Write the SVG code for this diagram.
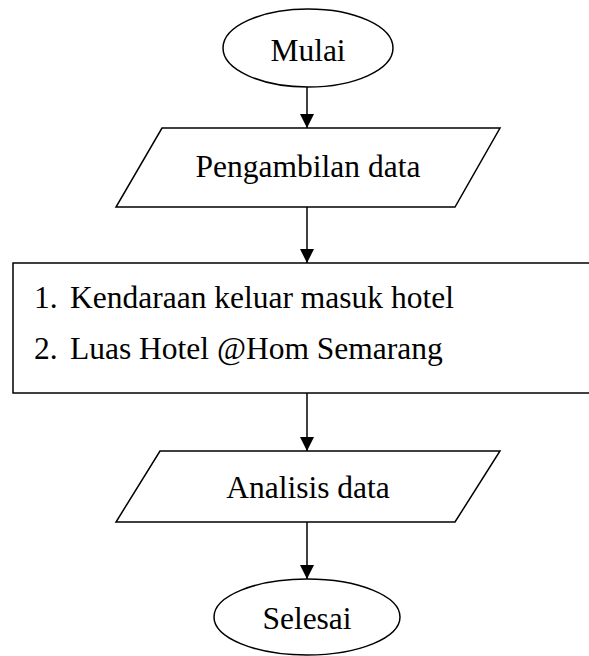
<svg xmlns="http://www.w3.org/2000/svg" width="589" height="656" viewBox="0 0 589 656">
<style>
.s{fill:#fff;stroke:#000;stroke-width:1.5}
.t{font-family:"Liberation Serif","Times New Roman",serif;font-size:31.5px;fill:#000}
.c{text-anchor:middle}
.l{stroke:#000;stroke-width:1.5;fill:none}
</style>
<defs>
<marker id="ah" markerWidth="14" markerHeight="14" refX="14" refY="7" orient="auto" markerUnits="userSpaceOnUse">
<path d="M0,0 L14,7 L0,14 Z" fill="#000"/>
</marker>
</defs>
<rect width="589" height="656" fill="#fff"/>
<g id="connectors">
<line class="l" x1="307" y1="87" x2="307" y2="128" marker-end="url(#ah)"/>
<line class="l" x1="307" y1="207" x2="307" y2="263" marker-end="url(#ah)"/>
<line class="l" x1="307" y1="393" x2="307" y2="451" marker-end="url(#ah)"/>
<line class="l" x1="307" y1="522" x2="307" y2="579" marker-end="url(#ah)"/>
</g>
<g id="mulai">
<ellipse class="s" cx="308" cy="48" rx="85" ry="39"/>
<text class="t c" x="308" y="61">Mulai</text>
</g>
<g id="pengambilan">
<polygon class="s" points="162,128 500,128 455,207 116,207"/>
<text class="t c" x="308" y="177">Pengambilan data</text>
</g>
<g id="data">
<rect class="s" x="13" y="263" width="600" height="130"/>
<text class="t" x="34" y="308">1.</text>
<text class="t" x="70" y="308">Kendaraan keluar masuk hotel</text>
<text class="t" x="34" y="359">2.</text>
<text class="t" x="70" y="359">Luas Hotel @Hom Semarang</text>
</g>
<g id="analisis">
<polygon class="s" points="160,451 500,451 455,522 116,522"/>
<text class="t c" x="308" y="498">Analisis data</text>
</g>
<g id="selesai">
<ellipse class="s" cx="307" cy="617" rx="93" ry="38"/>
<text class="t c" x="307" y="629">Selesai</text>
</g>
</svg>
